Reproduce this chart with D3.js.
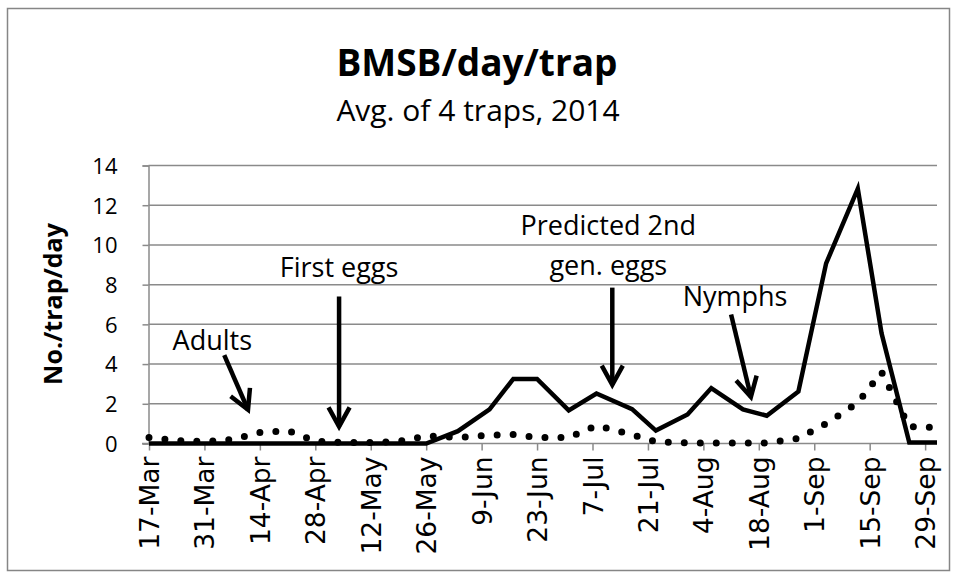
<!DOCTYPE html>
<html>
<head>
<meta charset="utf-8">
<script src="https://cdn.jsdelivr.net/npm/d3@7"></script>
<style>
  html, body { margin: 0; padding: 0; background: #fff; }
  svg { display: block; }
</style>
</head>
<body>
<svg id="chart" width="957" height="578"></svg>
<script>
// ---------- DATA ----------
const sampleDates = ["2014-03-17","2014-03-24","2014-03-31","2014-04-07","2014-04-14","2014-04-21","2014-04-28","2014-05-05","2014-05-12","2014-05-19","2014-05-26","2014-06-03","2014-06-11","2014-06-17","2014-06-23","2014-07-01","2014-07-08","2014-07-17","2014-07-23","2014-07-31","2014-08-06","2014-08-14","2014-08-20","2014-08-28","2014-09-04","2014-09-12","2014-09-18","2014-09-25","2014-10-02"];
const seriesSolid  = [0,0,0,0,0,0,0,0,0,0,0, 0.62,1.72,3.25,3.25,1.67,2.52,1.73,0.65,1.46,2.79,1.72,1.40,2.62,9.07,12.83,5.55,0.05,0.05];
const seriesDotted = [0.3,0.15,0.1,0.2,0.55,0.65,0.12,0.05,0.05,0.1,0.38, 0.3,0.42,0.45,0.3,0.3,0.9,0.45,0.08,0.03,0.02,0.02,0.03,0.25,1.0,2.05,3.6,0.85,0.8];
const xTickDates = ["2014-03-17","2014-03-31","2014-04-14","2014-04-28","2014-05-12","2014-05-26","2014-06-09","2014-06-23","2014-07-07","2014-07-21","2014-08-04","2014-08-18","2014-09-01","2014-09-15","2014-09-29"];
const yTickValues = [0,2,4,6,8,10,12,14];
const titleText = "BMSB/day/trap";
const subtitleText = "Avg. of 4 traps, 2014";
const yAxisTitle = "No./trap/day";
// annotations: label lines, label anchor (date, value), arrow tail & tip (date, value)
const annotationLabels = [["Adults"], ["First eggs"], ["Predicted 2nd", "gen. eggs"], ["Nymphs"]];
const annotationTextAt = [["2014-04-02", 4.7], ["2014-05-04", 8.4], ["2014-07-11", 10.5], ["2014-08-12", 6.9]];
const annotationTail   = [["2014-04-05", 4.45], ["2014-05-04", 7.4], ["2014-07-12", 7.85], ["2014-08-11", 6.5]];
const annotationTip    = [["2014-04-11", 1.7], ["2014-05-04", 0.85], ["2014-07-12", 2.95], ["2014-08-16", 2.35]];

// ---------- SETUP ----------
const parse = d3.timeParse("%Y-%m-%d");
const svg = d3.select("#chart");

svg.append("rect")
  .attr("x", 7.5).attr("y", 8.5).attr("width", 942).attr("height", 562)
  .attr("fill", "#fff").attr("stroke", "#868686").attr("stroke-width", 1.5);

const x = d3.scaleTime()
  .domain([parse("2014-03-17"), parse("2014-10-02")])
  .range([149, 937]);
const y = d3.scaleLinear().domain([0, 14]).range([443.5, 165.5]);

const gridColor = "#8a8a8a";

// y axis + gridlines
const yAxis = d3.axisLeft(y).tickValues(yTickValues).tickSize(6).tickPadding(25).tickFormat(d3.format("d"));
const gy = svg.append("g").attr("transform", "translate(148.5,0)").call(yAxis);
gy.select(".domain").attr("stroke", gridColor).attr("stroke-width", 1.5);
gy.selectAll(".tick line").attr("stroke", gridColor).attr("stroke-width", 1.5);
gy.selectAll(".tick text")
  .attr("font-family", "'Open Sans', sans-serif").attr("font-size", 22).attr("fill", "#000")
  .attr("dy", "0.36em");

svg.append("g").selectAll("line").data(yTickValues.filter(v => v > 0)).join("line")
  .attr("x1", 148.5).attr("x2", 937).attr("y1", d => y(d)).attr("y2", d => y(d))
  .attr("stroke", gridColor).attr("stroke-width", 1.5);

// x axis
const xAxis = d3.axisBottom(x).tickValues(xTickDates.map(parse)).tickSize(7).tickPadding(6)
  .tickFormat(d3.timeFormat("%-d-%b")).tickSizeOuter(0);
const gx = svg.append("g").attr("transform", `translate(0,${y(0)})`).call(xAxis);
gx.select(".domain").attr("stroke", gridColor).attr("stroke-width", 1.5).attr("d", `M142,0H937`);
gx.selectAll(".tick line").attr("stroke", gridColor).attr("stroke-width", 1.5);
gx.selectAll(".tick text")
  .attr("font-family", "'DejaVu Sans', sans-serif").attr("font-size", 26.5).attr("fill", "#000")
  .attr("text-anchor", "end")
  .attr("transform", "rotate(-90)")
  .attr("x", -13).attr("y", 0).attr("dy", "0.36em");

// lines
const pts = (vals) => sampleDates.map((d, i) => [parse(d), vals[i]]);
const line = d3.line().x(d => x(d[0])).y(d => y(d[1]));

svg.append("path").datum(pts(seriesSolid))
  .attr("d", line).attr("fill", "none").attr("stroke", "#000")
  .attr("stroke-width", 4.5).attr("stroke-linejoin", "miter");

svg.append("path").datum(pts(seriesDotted))
  .attr("d", line).attr("fill", "none").attr("stroke", "#000")
  .attr("stroke-width", 7).attr("stroke-linecap", "round")
  .attr("stroke-dasharray", "0,16");

// annotations
annotationLabels.forEach((lines, i) => {
  const tx = x(parse(annotationTextAt[i][0])), ty = y(annotationTextAt[i][1]);
  const t = svg.append("text").attr("x", tx).attr("y", ty)
    .attr("text-anchor", "middle")
    .attr("font-family", "'Open Sans', sans-serif").attr("font-size", 27).attr("fill", "#000");
  lines.forEach((l, j) => t.append("tspan").attr("x", tx).attr("dy", j === 0 ? 0 : 40).text(l));

  const x1 = x(parse(annotationTail[i][0])), y1 = y(annotationTail[i][1]);
  const x2 = x(parse(annotationTip[i][0])), y2 = y(annotationTip[i][1]);
  svg.append("line").attr("x1", x1).attr("y1", y1).attr("x2", x2).attr("y2", y2)
    .attr("stroke", "#000").attr("stroke-width", 4.5);
  const ang = Math.atan2(y2 - y1, x2 - x1);
  const hl = 22, ha = 0.5;
  const p1 = [x2 - hl * Math.cos(ang - ha), y2 - hl * Math.sin(ang - ha)];
  const p2 = [x2 - hl * Math.cos(ang + ha), y2 - hl * Math.sin(ang + ha)];
  svg.append("path").attr("d", `M${p1[0]},${p1[1]}L${x2},${y2}L${p2[0]},${p2[1]}`)
    .attr("fill", "none").attr("stroke", "#000").attr("stroke-width", 4.5)
    .attr("stroke-linejoin", "miter");
});

// titles
svg.append("text").attr("x", 477).attr("y", 76).attr("text-anchor", "middle")
  .attr("font-family", "'Open Sans', sans-serif").attr("font-weight", "bold").attr("font-size", 37)
  .text(titleText);
svg.append("text").attr("x", 478).attr("y", 121).attr("text-anchor", "middle")
  .attr("font-family", "'Open Sans', sans-serif").attr("font-size", 30)
  .text(subtitleText);
svg.append("text").attr("transform", "translate(62,304) rotate(-90)").attr("text-anchor", "middle")
  .attr("font-family", "'Open Sans', sans-serif").attr("font-weight", "bold").attr("font-size", 25)
  .text(yAxisTitle);
</script>
</body>
</html>
